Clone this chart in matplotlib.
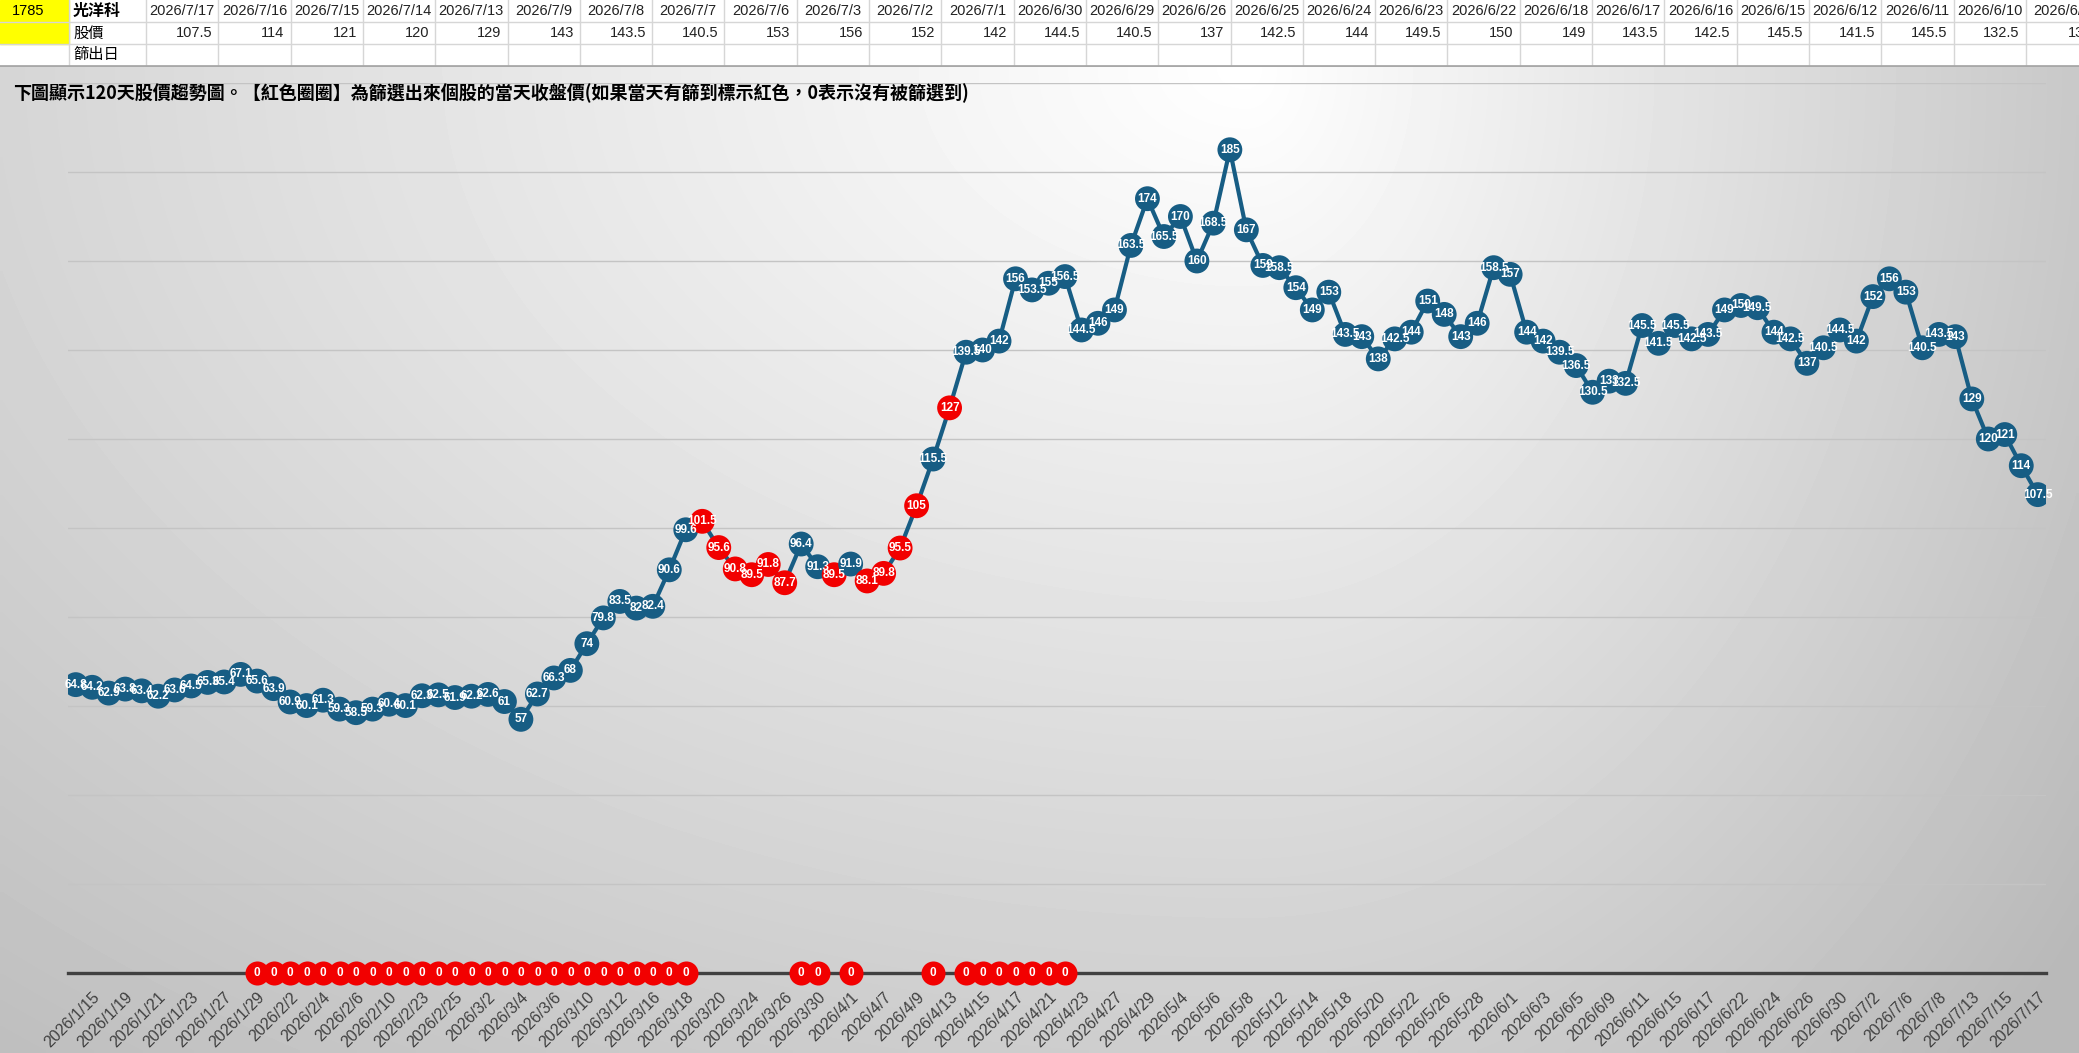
import numpy as np
import matplotlib.pyplot as plt

plt.rcParams['font.family'] = ['Noto Sans CJK TC', 'DejaVu Sans']

# ---- data ----
stock_id = '1785'
stock_name = '光洋科'

dates = ['2026/1/14', '2026/1/15', '2026/1/16', '2026/1/19', '2026/1/20', '2026/1/21', '2026/1/22', '2026/1/23',
         '2026/1/26', '2026/1/27', '2026/1/28', '2026/1/29', '2026/1/30', '2026/2/2', '2026/2/3', '2026/2/4',
         '2026/2/5', '2026/2/6', '2026/2/9', '2026/2/10', '2026/2/11', '2026/2/23', '2026/2/24', '2026/2/25',
         '2026/2/26', '2026/3/2', '2026/3/3', '2026/3/4', '2026/3/5', '2026/3/6', '2026/3/9', '2026/3/10',
         '2026/3/11', '2026/3/12', '2026/3/13', '2026/3/16', '2026/3/17', '2026/3/18', '2026/3/19', '2026/3/20',
         '2026/3/23', '2026/3/24', '2026/3/25', '2026/3/26', '2026/3/27', '2026/3/30', '2026/3/31', '2026/4/1',
         '2026/4/2', '2026/4/7', '2026/4/8', '2026/4/9', '2026/4/10', '2026/4/13', '2026/4/14', '2026/4/15',
         '2026/4/16', '2026/4/17', '2026/4/20', '2026/4/21', '2026/4/22', '2026/4/23', '2026/4/24', '2026/4/27',
         '2026/4/28', '2026/4/29', '2026/4/30', '2026/5/4', '2026/5/5', '2026/5/6', '2026/5/7', '2026/5/8',
         '2026/5/11', '2026/5/12', '2026/5/13', '2026/5/14', '2026/5/15', '2026/5/18', '2026/5/19', '2026/5/20',
         '2026/5/21', '2026/5/22', '2026/5/25', '2026/5/26', '2026/5/27', '2026/5/28', '2026/5/29', '2026/6/1',
         '2026/6/2', '2026/6/3', '2026/6/4', '2026/6/5', '2026/6/8', '2026/6/9', '2026/6/10', '2026/6/11',
         '2026/6/12', '2026/6/15', '2026/6/16', '2026/6/17', '2026/6/18', '2026/6/22', '2026/6/23', '2026/6/24',
         '2026/6/25', '2026/6/26', '2026/6/29', '2026/6/30', '2026/7/1', '2026/7/2', '2026/7/3', '2026/7/6',
         '2026/7/7', '2026/7/8', '2026/7/9', '2026/7/13', '2026/7/14', '2026/7/15', '2026/7/16', '2026/7/17']

prices = [64.8, 64.2, 62.9, 63.8, 63.4, 62.2, 63.6, 64.5, 65.3, 65.4, 67.1, 65.6, 63.9,
          60.9, 60.1, 61.3, 59.3, 58.5, 59.3, 60.4, 60.1, 62.3, 62.5, 61.9, 62.2,
          62.6, 61, 57, 62.7, 66.3, 68, 74, 79.8, 83.5, 82, 82.4, 90.6, 99.6, 101.5, 95.6,
          90.8, 89.5, 91.8, 87.7, 96.4, 91.3, 89.5, 91.9, 88.1, 89.8, 95.5, 105, 115.5,
          127, 139.5, 140, 142, 156, 153.5, 155, 156.5, 144.5, 146, 149, 163.5, 174, 165.5,
          170, 160, 168.5, 185, 167, 159, 158.5, 154, 149, 153, 143.5, 143, 138, 142.5, 144,
          151, 148, 143, 146, 158.5, 157, 144, 142, 139.5, 136.5, 130.5, 133, 132.5, 145.5, 141.5,
          145.5, 142.5, 143.5, 149, 150, 149.5, 144, 142.5, 137, 140.5, 144.5,
          142, 152, 156, 153, 140.5, 143.5, 143, 129, 120, 121, 114, 107.5]

# days the stock was picked by the screen (red circles)
hit_dates = ['2026/3/19', '2026/3/20', '2026/3/23', '2026/3/24', '2026/3/25', '2026/3/26',
             '2026/3/31', '2026/4/2', '2026/4/7', '2026/4/8', '2026/4/9', '2026/4/13']
# days shown as 0 (not picked)
zero_dates = dates[11:38] + ['2026/3/27', '2026/3/30', '2026/4/1', '2026/4/10'] + dates[54:61]

table_dates = ['2026/7/17', '2026/7/16', '2026/7/15', '2026/7/14', '2026/7/13', '2026/7/9', '2026/7/8',
               '2026/7/7', '2026/7/6', '2026/7/3', '2026/7/2', '2026/7/1', '2026/6/30', '2026/6/29',
               '2026/6/26', '2026/6/25', '2026/6/24', '2026/6/23', '2026/6/22', '2026/6/18', '2026/6/17',
               '2026/6/16', '2026/6/15', '2026/6/12', '2026/6/11', '2026/6/10', '2026/6/9']
table_prices = [107.5, 114, 121, 120, 129, 143, 143.5, 140.5, 153, 156, 152, 142, 144.5, 140.5,
                137, 142.5, 144, 149.5, 150, 149, 143.5, 142.5, 145.5, 141.5, 145.5, 132.5, 133]

title = '下圖顯示120天股價趨勢圖。【紅色圈圈】為篩選出來個股的當天收盤價(如果當天有篩到標示紅色，0表示沒有被篩選到)'

BLUE = '#175d84'
RED = '#f20000'
W, H = 2079, 1053
latin = ['Liberation Sans', 'DejaVu Sans']

def fmt(v):
    return ('%g' % v)

fig = plt.figure(figsize=(W / 100, H / 100), dpi=100)
fig.patch.set_facecolor('white')

# ---- gradient background of chart area ----
top_px = 67
bg = fig.add_axes([0, 0, 1, (H - top_px) / H])
gx = np.linspace(0, 1, 400)
gy = np.linspace(0, 1, 200)
X, Y = np.meshgrid(gx, gy)
dx = np.where(X > 0.6, (X - 0.6) / 0.38, (X - 0.6) / 0.75)
d = np.sqrt(dx ** 2 + (Y / 1.05) ** 2)
v = (255 - 52 * np.clip(d, 0, 1.35)) / 255
bg.imshow(v, cmap='gray', vmin=0, vmax=1, aspect='auto', interpolation='bilinear',
          extent=[0, 1, 1, 0])
bg.set_axis_off()

# ---- top table ----
tb = fig.add_axes([0, (H - top_px) / H, 1, top_px / H])
tb.set_xlim(0, W)
tb.set_ylim(top_px, 0)
tb.set_axis_off()
tb.add_patch(plt.Rectangle((0, 0), 69, 44, color='#ffff00', zorder=0))
col_w = 72.3
x0 = 146
grid_c = '#d6d6d6'
for r in (22, 44):
    tb.plot([0, W], [r, r], color=grid_c, lw=1)
for xv in [69, x0] + [x0 + col_w * (i + 1) for i in range(len(table_dates))]:
    tb.plot([xv, xv], [0, 66], color=grid_c, lw=1)
tb.plot([0, W], [66, 66], color='#a8a8a8', lw=2)
tb.text(12, 11, stock_id, fontsize=10.5, va='center', ha='left', family=latin)
tb.text(73, 11, stock_name, fontsize=11.5, va='center', ha='left', weight='bold')
tb.text(73, 33, '股價', fontsize=11, va='center', ha='left')
tb.text(73, 55, '篩出日', fontsize=11, va='center', ha='left')
for i, (dt, pr) in enumerate(zip(table_dates, table_prices)):
    cx = x0 + col_w * i
    tb.text(cx + col_w / 2, 11, dt, fontsize=10.5, va='center', ha='center', family=latin, color='#222222')
    tb.text(cx + col_w - 6, 33, fmt(pr), fontsize=10.5, va='center', ha='right', family=latin, color='#222222')

fig.text(13 / W, 1 - 93 / H, title, fontsize=13, weight='bold', va='center', ha='left', color='black')

# ---- main chart ----
ax = fig.add_axes([67.5 / W, 80 / H, (2046 - 67.5) / W, 890 / H])
ax.patch.set_alpha(0)
x = np.arange(len(prices))
ax.set_xlim(-0.5, len(prices) - 0.5)
ax.set_ylim(0, 200)
ax.set_yticks(range(0, 201, 20))
ax.yaxis.grid(True, color='#c4c4c4', lw=1)
ax.set_axisbelow(True)
ax.tick_params(axis='y', left=False, labelleft=False)
for s in ('left', 'right', 'top'):
    ax.spines[s].set_visible(False)
ax.spines['bottom'].set_color('#404040')
ax.spines['bottom'].set_linewidth(2.4)

ax.plot(x, prices, color=BLUE, lw=3, zorder=3)
hit_idx = [dates.index(dd) for dd in hit_dates]
colors = [RED if i in hit_idx else BLUE for i in x]
ax.scatter(x, prices, s=320, c=colors, zorder=4, linewidths=0)
for i, p in enumerate(prices):
    ax.text(i, p, fmt(p), color='white', fontsize=8.5, weight='bold', ha='center', va='center',
            family=latin, zorder=5)

zero_idx = [dates.index(dd) for dd in zero_dates]
ax.scatter(zero_idx, [0] * len(zero_idx), s=300, c=RED, zorder=4, linewidths=0, clip_on=False)
for i in zero_idx:
    ax.text(i, 0, '0', color='white', fontsize=8.5, weight='bold', ha='center', va='center',
            family=latin, zorder=5)

ax.set_xticks(x[1::2])
ax.set_xticklabels(dates[1::2], rotation=45, ha='right', rotation_mode='anchor',
                   fontsize=11.5, color='#404040', family=latin)
ax.tick_params(axis='x', length=0, pad=12)

fig.savefig('out.png', dpi=100)
